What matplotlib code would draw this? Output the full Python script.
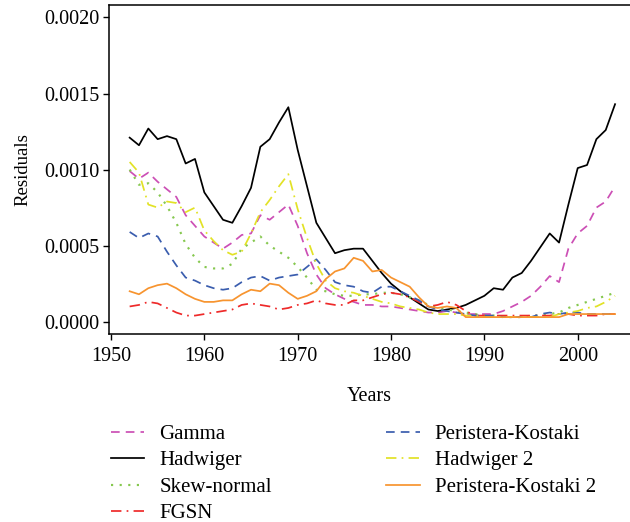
import matplotlib
matplotlib.use("Agg")
import matplotlib.pyplot as plt

plt.rcParams['font.family'] = ['Liberation Serif', 'DejaVu Serif']

years = list(range(1952, 2005))

gamma = [0.00099, 0.00094, 0.00098, 0.00092, 0.00087, 0.00082, 0.00070, 0.00063, 0.00056, 0.00052,
         0.00048, 0.00052, 0.00057, 0.00058, 0.00070, 0.00067, 0.00072, 0.00077, 0.00063, 0.00045,
         0.00031, 0.00022, 0.00018, 0.00015, 0.00013, 0.00011, 0.00011, 0.00010, 0.00010, 0.00009,
         0.00008, 0.00007, 0.00006, 0.00006, 0.00007, 0.00006, 0.00005, 0.00005, 0.00005, 0.00005,
         0.00007, 0.00010, 0.00013, 0.00017, 0.00023, 0.00030, 0.00026, 0.00048, 0.00058, 0.00063,
         0.00075, 0.00079, 0.00089]

hadwiger = [0.00121, 0.00116, 0.00127, 0.00120, 0.00122, 0.00120, 0.00104, 0.00107, 0.00085, 0.00076,
            0.00067, 0.00065, 0.00076, 0.00088, 0.00115, 0.00120, 0.00131, 0.00141, 0.00113, 0.00089,
            0.00065, 0.00055, 0.00045, 0.00047, 0.00048, 0.00048, 0.00040, 0.00032, 0.00025, 0.00020,
            0.00016, 0.00012, 0.00008, 0.00007, 0.00008, 0.00009, 0.00011, 0.00014, 0.00017, 0.00022,
            0.00021, 0.00029, 0.00032, 0.00040, 0.00049, 0.00058, 0.00052, 0.00077, 0.00101, 0.00103,
            0.00120, 0.00126, 0.00143]

skew_normal = [0.00100, 0.00090, 0.00091, 0.00085, 0.00076, 0.00065, 0.00051, 0.00042, 0.00036, 0.00035,
               0.00035, 0.00038, 0.00048, 0.00052, 0.00056, 0.00050, 0.00046, 0.00042, 0.00036, 0.00029,
               0.00021, 0.00020, 0.00018, 0.00017, 0.00017, 0.00018, 0.00018, 0.00019, 0.00019, 0.00018,
               0.00016, 0.00014, 0.00011, 0.00009, 0.00008, 0.00007, 0.00006, 0.00005, 0.00004, 0.00004,
               0.00003, 0.00003, 0.00003, 0.00004, 0.00004, 0.00005, 0.00006, 0.00009, 0.00011, 0.00013,
               0.00015, 0.00017, 0.00019]

fgsn = [0.00010, 0.00011, 0.00013, 0.00012, 0.00009, 0.00006, 0.00004, 0.00004, 0.00005, 0.00006,
        0.00007, 0.00008, 0.00011, 0.00012, 0.00011, 0.00010, 0.00008, 0.00009, 0.00011, 0.00012,
        0.00014, 0.00012, 0.00011, 0.00011, 0.00014, 0.00014, 0.00016, 0.00018, 0.00019, 0.00018,
        0.00016, 0.00013, 0.00010, 0.00011, 0.00013, 0.00011, 0.00007, 0.00004, 0.00004, 0.00004,
        0.00004, 0.00004, 0.00004, 0.00004, 0.00004, 0.00004, 0.00005, 0.00005, 0.00004, 0.00004,
        0.00004, 0.00005, 0.00005]

peristera = [0.00059, 0.00055, 0.00058, 0.00056, 0.00046, 0.00037, 0.00029, 0.00027, 0.00024, 0.00022,
             0.00021, 0.00022, 0.00026, 0.00029, 0.00030, 0.00027, 0.00029, 0.00030, 0.00031, 0.00036,
             0.00041, 0.00034, 0.00026, 0.00024, 0.00023, 0.00020, 0.00019, 0.00023, 0.00023, 0.00020,
             0.00017, 0.00014, 0.00010, 0.00008, 0.00007, 0.00006, 0.00005, 0.00004, 0.00004, 0.00004,
             0.00003, 0.00003, 0.00003, 0.00003, 0.00005, 0.00006, 0.00005, 0.00006, 0.00006, 0.00005,
             0.00005, 0.00005, 0.00005]

hadwiger2 = [0.00105, 0.00098, 0.00077, 0.00075, 0.00079, 0.00078, 0.00072, 0.00075, 0.00060, 0.00053,
             0.00047, 0.00044, 0.00046, 0.00058, 0.00072, 0.00080, 0.00089, 0.00097, 0.00074, 0.00055,
             0.00038, 0.00027, 0.00022, 0.00020, 0.00019, 0.00017, 0.00015, 0.00013, 0.00012, 0.00010,
             0.00009, 0.00008, 0.00006, 0.00005, 0.00005, 0.00005, 0.00004, 0.00004, 0.00003, 0.00003,
             0.00003, 0.00003, 0.00003, 0.00003, 0.00003, 0.00003, 0.00005, 0.00006, 0.00007, 0.00009,
             0.00010, 0.00013, 0.00017]

peristera2 = [0.00020, 0.00018, 0.00022, 0.00024, 0.00025, 0.00022, 0.00018, 0.00015, 0.00013, 0.00013,
              0.00014, 0.00014, 0.00018, 0.00021, 0.00020, 0.00025, 0.00024, 0.00019, 0.00015, 0.00017,
              0.00020, 0.00028, 0.00033, 0.00035, 0.00042, 0.00040, 0.00033, 0.00034, 0.00029, 0.00026,
              0.00023, 0.00016, 0.00010, 0.00009, 0.00010, 0.00009, 0.00003, 0.00003, 0.00003, 0.00003,
              0.00003, 0.00003, 0.00003, 0.00003, 0.00003, 0.00003, 0.00003, 0.00005, 0.00005, 0.00005,
              0.00005, 0.00005, 0.00005]

fig = plt.figure(figsize=(6.3, 5.22), dpi=100)
ax = fig.add_axes([0.1735, 0.3596, 0.8265, 0.6302])

lw = 1.25
ax.plot(years, gamma, color='#cc4fb5', linestyle=(0, (5, 3.5)), lw=lw, label='Gamma')
ax.plot(years, hadwiger, color='black', linestyle='-', lw=lw, label='Hadwiger')
ax.plot(years, skew_normal, color='#86c84f', linestyle=(0, (1, 3)), lw=lw + 0.3, label='Skew-normal')
ax.plot(years, fgsn, color='#ee2a2a', linestyle=(0, (6, 3, 1, 3)), lw=lw, label='FGSN')
ax.plot(years, peristera, color='#3a5dae', linestyle=(0, (5, 3.5)), lw=lw, label='Peristera-Kostaki')
ax.plot(years, hadwiger2, color='#e2e226', linestyle=(0, (6, 3, 1, 3)), lw=lw, label='Hadwiger 2')
ax.plot(years, peristera2, color='#f7942f', linestyle='-', lw=lw, label='Peristera-Kostaki 2')

ax.set_xlim(1949.82, 2005.6)
ax.set_ylim(-0.000083, 0.00208)
ax.set_xticks([1950, 1960, 1970, 1980, 1990, 2000])
ax.set_yticks([0.0, 0.0005, 0.0010, 0.0015, 0.0020])
ax.set_yticklabels(['0.0000', '0.0005', '0.0010', '0.0015', '0.0020'])
ax.tick_params(labelsize=14.5, length=4, width=1, pad=3)
ax.tick_params(axis='x', pad=5)
ax.spines['right'].set_visible(False)
for s in ['left', 'bottom', 'top']:
    ax.spines[s].set_linewidth(1.1)

ax.set_xlabel('Years', fontsize=14.5, labelpad=15)
ax.set_ylabel('Residuals', fontsize=13.5, labelpad=9)

fig.legend(loc='upper left', bbox_to_anchor=(0.176, 0.187), ncol=2, frameon=False,
           fontsize=15, handlelength=1.6, handletextpad=0.72, columnspacing=5.5,
           labelspacing=0.33, borderpad=0, borderaxespad=0)

fig.savefig('out.png', dpi=100)
